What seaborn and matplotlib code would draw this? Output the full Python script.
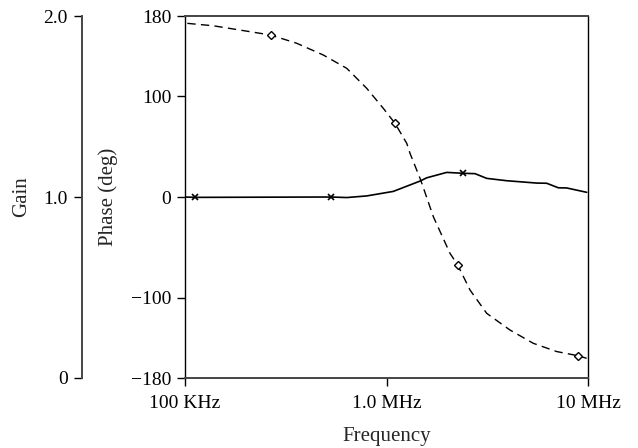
import matplotlib
matplotlib.use("Agg")
import matplotlib.pyplot as plt
import pandas as pd
import seaborn as sns
from matplotlib.ticker import FixedLocator, FixedFormatter, NullLocator

# Gain response (solid line, scale drawn on the far left)
gain_freq = [1.0e5, 1.127e5, 5.30e5, 6.35e5, 7.98e5, 1.081e6, 1.467e6, 1.583e6,
             1.99e6, 2.405e6, 2.75e6, 3.143e6, 3.949e6, 5.565e6, 6.237e6,
             7.122e6, 7.842e6, 9.85e6]
gain_values = [1.0, 0.998, 1.0, 0.997, 1.006, 1.031, 1.088, 1.106,
               1.136, 1.131, 1.129, 1.103, 1.090, 1.077, 1.076,
               1.051, 1.050, 1.026]
gain_marker_idx = [1, 2, 9]

# Phase response (dashed line)
phase_freq = [1.027e5, 1.382e5, 2.662e5, 3.584e5, 4.858e5, 6.346e5, 7.975e5,
              9.64e5, 1.102e6, 1.26e6, 1.308e6, 1.478e6, 1.708e6, 2.066e6,
              2.256e6, 2.597e6, 3.143e6, 4.102e6, 5.353e6, 6.995e6, 8.89e6,
              9.85e6]
phase_values = [172.7, 170.3, 161.1, 152.9, 141.2, 128.0, 108.1,
                88.2, 73.3, 53.4, 43.5, 16.9, -19.6, -56.0,
                -67.6, -92.5, -115.7, -132.3, -145.5, -153.7, -157.8,
                -160.4]
phase_marker_idx = [2, 8, 14, 20]

freq_ticks = [1e5, 1e6, 1e7]
freq_tick_labels = ["100 KHz", "1.0 MHz", "10 MHz"]
phase_ticks = [-180, -100, 0, 100, 180]
phase_tick_labels = ["\u2212180", "\u2212100", "0", "100", "180"]
gain_ticks = [0.0, 1.0, 2.0]
gain_tick_labels = ["0", "1.0", "2.0"]

gain_df = pd.DataFrame({"Frequency": gain_freq, "Gain": gain_values})
phase_df = pd.DataFrame({"Frequency": phase_freq, "Phase": phase_values})

sns.set_theme(style="ticks")
plt.rcParams["font.family"] = ["Liberation Serif", "DejaVu Serif"]
plt.rcParams["font.size"] = 14

fig = plt.figure(figsize=(6.38, 4.48), dpi=100)
ax = fig.add_axes([0.290, 0.15625, 0.6316, 0.808])
ax.set_xscale("log")

sns.lineplot(data=phase_df, x="Frequency", y="Phase", ax=ax, color="black",
             lw=1.0, estimator=None, errorbar=None,
             linestyle=(0, (6, 3.8)), marker="D", markersize=3.8,
             markerfacecolor="white", markeredgecolor="black",
             markeredgewidth=1.0, markevery=phase_marker_idx)

gax = ax.twinx()
sns.lineplot(data=gain_df, x="Frequency", y="Gain", ax=gax, color="black",
             lw=1.2, estimator=None, errorbar=None, marker="x",
             markersize=4.5, markeredgecolor="black", markeredgewidth=1.2,
             markevery=gain_marker_idx)

ax.set_xlim(1e5, 1e7)
ax.set_ylim(-180, 180)
gax.set_ylim(0, 2.0)

ax.xaxis.set_major_locator(FixedLocator(freq_ticks))
ax.xaxis.set_major_formatter(FixedFormatter(freq_tick_labels))
ax.xaxis.set_minor_locator(NullLocator())
ax.yaxis.set_major_locator(FixedLocator(phase_ticks))
ax.yaxis.set_major_formatter(FixedFormatter(phase_tick_labels))

gax.yaxis.set_ticks_position("left")
gax.yaxis.set_label_position("left")
gax.yaxis.set_major_locator(FixedLocator(gain_ticks))
gax.yaxis.set_major_formatter(FixedFormatter(gain_tick_labels))
gax.spines["left"].set_position(("axes", -0.256))
gax.spines["left"].set_visible(True)
for side in ("right", "top", "bottom"):
    gax.spines[side].set_visible(False)
gax.spines["left"].set_color("#444444")
gax.spines["left"].set_linewidth(1.4)

for side in ("top", "bottom"):
    ax.spines[side].set_color("#444444")
    ax.spines[side].set_linewidth(1.4)
for side in ("left", "right"):
    ax.spines[side].set_color("black")
    ax.spines[side].set_linewidth(1.0)

for a in (ax, gax):
    a.tick_params(axis="both", direction="out", length=6, width=1.0,
                  colors="black", labelsize=14, pad=4)
ax.tick_params(axis="x", pad=6)

ax.set_xlabel("Frequency", fontsize=15, labelpad=11)
ax.set_ylabel("Phase (deg)", fontsize=15)
gax.set_ylabel("Gain", fontsize=15)
ax.yaxis.set_label_coords(-0.166, 0.5)
gax.yaxis.set_label_coords(-0.382, 0.5)

ax.grid(False)
gax.grid(False)

fig.savefig("out.png", dpi=100, facecolor="white")
